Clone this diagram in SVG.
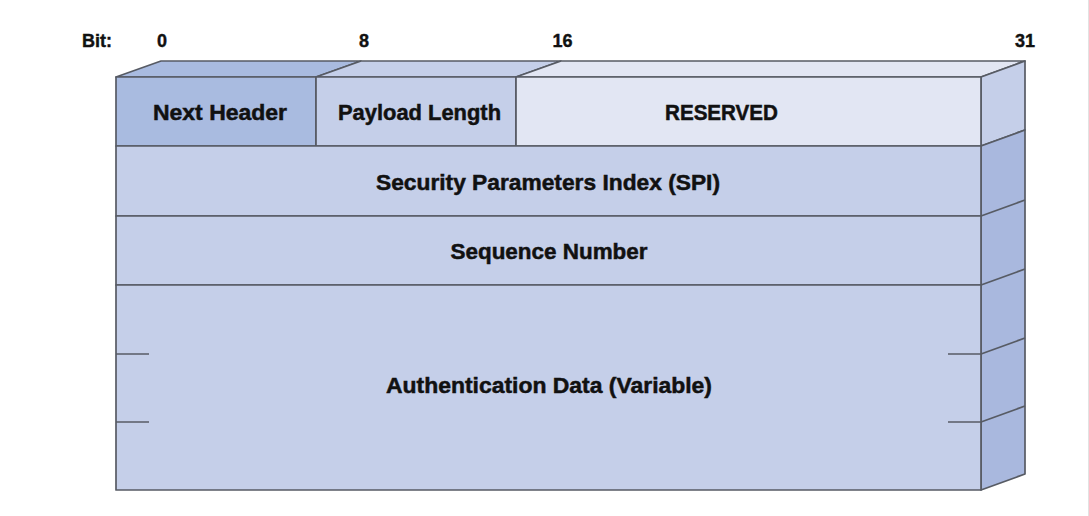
<svg xmlns="http://www.w3.org/2000/svg" width="1089" height="516" viewBox="0 0 1089 516">
<style>
  .edge{stroke:#575b64;stroke-width:1.7;stroke-linejoin:round}
  .txt{font-family:"Liberation Sans",Arial,sans-serif;font-weight:bold;font-size:22px;fill:#111;stroke:#111;stroke-width:0.5;text-anchor:middle}
  .lbl{font-family:"Liberation Sans",Arial,sans-serif;font-weight:bold;font-size:18px;fill:#111;stroke:#111;stroke-width:0.4;text-anchor:middle}
  .dark{fill:#a9bbe0}
  .mid{fill:#c5cfe9}
  .light{fill:#e2e6f3}
  .side{fill:#a9b8de}
</style>
<rect x="0" y="0" width="1089" height="516" fill="#ffffff"/>
<line x1="1088.5" y1="0" x2="1088.5" y2="516" stroke="#e2e2e2" stroke-width="1"/>

<g id="bit-labels">
  <text class="lbl" x="82" y="47" style="text-anchor:start">Bit:</text>
  <text class="lbl" x="162" y="47">0</text>
  <text class="lbl" x="364" y="47">8</text>
  <text class="lbl" x="562.5" y="47">16</text>
  <text class="lbl" x="1025" y="47">31</text>
</g>

<g id="top-face">
  <polygon class="dark edge" points="116,77 316,77 361,61 161,61"/>
  <polygon class="mid edge" points="316,77 516,77 561,61 361,61"/>
  <polygon class="light edge" points="516,77 981,77 1025,61 561,61"/>
</g>

<g id="side-face">
  <polygon class="mid edge" points="981,77 1025,61 1025,130 981,146"/>
  <polygon class="side edge" points="981,146 1025,130 1025,474 981,490"/>
  <line class="edge" x1="981" y1="216" x2="1025" y2="200"/>
  <line class="edge" x1="981" y1="285" x2="1025" y2="269"/>
  <line class="edge" x1="981" y1="354" x2="1025" y2="338"/>
  <line class="edge" x1="981" y1="422" x2="1025" y2="406"/>
</g>

<g id="next-header">
  <rect class="dark edge" x="116" y="77" width="200" height="69"/>
  <text class="txt" x="220" y="120" textLength="134" lengthAdjust="spacingAndGlyphs">Next Header</text>
</g>
<g id="payload-length">
  <rect class="mid edge" x="316" y="77" width="200" height="69"/>
  <text class="txt" x="419.5" y="120" textLength="163" lengthAdjust="spacingAndGlyphs">Payload Length</text>
</g>
<g id="reserved">
  <rect class="light edge" x="516" y="77" width="465" height="69"/>
  <text class="txt" x="721.5" y="120" textLength="113" lengthAdjust="spacingAndGlyphs">RESERVED</text>
</g>
<g id="spi">
  <rect class="mid edge" x="116" y="146" width="865" height="70"/>
  <text class="txt" x="548" y="190" textLength="344" lengthAdjust="spacingAndGlyphs">Security Parameters Index (SPI)</text>
</g>
<g id="sequence-number">
  <rect class="mid edge" x="116" y="216" width="865" height="69"/>
  <text class="txt" x="549" y="259" textLength="197" lengthAdjust="spacingAndGlyphs">Sequence Number</text>
</g>
<g id="authentication-data">
  <rect class="mid edge" x="116" y="285" width="865" height="205"/>
  <line class="edge" x1="116" y1="354" x2="149" y2="354"/>
  <line class="edge" x1="116" y1="422" x2="149" y2="422"/>
  <line class="edge" x1="948" y1="354" x2="981" y2="354"/>
  <line class="edge" x1="948" y1="422" x2="981" y2="422"/>
  <text class="txt" x="549" y="393" textLength="326" lengthAdjust="spacingAndGlyphs">Authentication Data (Variable)</text>
</g>
</svg>
